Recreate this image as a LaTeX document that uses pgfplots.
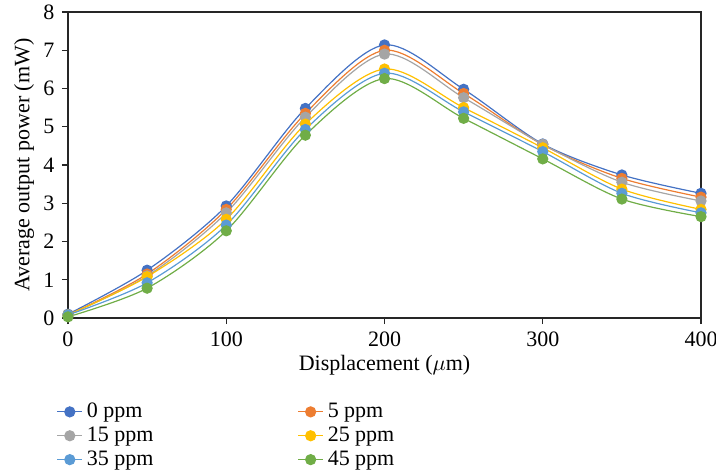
\documentclass[border=0pt]{standalone}
\usepackage{fontspec}
\setmainfont{Liberation Serif}
\usepackage{pgfplots}
\pgfplotsset{compat=1.18}

\definecolor{cA}{HTML}{4472C4}
\definecolor{cB}{HTML}{ED7D31}
\definecolor{cC}{HTML}{A5A5A5}
\definecolor{cD}{HTML}{FFC000}
\definecolor{cE}{HTML}{5B9BD5}
\definecolor{cF}{HTML}{70AD47}

\begin{document}
\fontsize{11}{13}\selectfont
\begin{tikzpicture}
\useasboundingbox (-34pt,-77.5pt) rectangle (324pt,159pt);
\begin{axis}[
    width=316.5pt, height=153pt, scale only axis,
    xmin=0, xmax=400, ymin=0, ymax=8,
    xtick={0,100,...,400}, ytick={0,1,...,8},
    tick align=outside, tick pos=left,
    major tick length=3pt,
    axis line style={line width=0.6pt, black!85},
    every tick/.style={line width=0.6pt, black!85},
    /pgf/number format/assume math mode=true,
    xlabel={Displacement ($\mu$m)},
    ylabel={Average output power (mW)},
    xlabel style={yshift=3pt},
    ylabel style={yshift=-3pt},
    clip=false,
    every axis plot/.append style={line width=0.6pt, smooth, tension=0.5, mark=*, mark size=2.5pt},
    legend columns=2,
    legend cell align=left,
    legend style={draw=none, fill=none, at={(-0.028,-0.25)}, anchor=north west,
        row sep=-1pt, /tikz/column 2/.style={column sep=70pt}},
    legend image code/.code={\draw[mark repeat=2,mark phase=2] plot coordinates {(0cm,0cm)(0.22cm,0cm)(0.44cm,0cm)};},
]
\addplot[cA, mark options={fill=cA}] coordinates {(0,0.10) (50,1.25) (100,2.93) (150,5.48) (200,7.14) (250,5.98) (300,4.55) (350,3.74) (400,3.26)};
\addlegendentry{0 ppm}
\addplot[cB, mark options={fill=cB}] coordinates {(0,0.08) (50,1.15) (100,2.84) (150,5.35) (200,7.00) (250,5.87) (300,4.53) (350,3.65) (400,3.16)};
\addlegendentry{5 ppm}
\addplot[cC, mark options={fill=cC}] coordinates {(0,0.08) (50,1.10) (100,2.75) (150,5.25) (200,6.90) (250,5.76) (300,4.54) (350,3.55) (400,3.06)};
\addlegendentry{15 ppm}
\addplot[cD, mark options={fill=cD}] coordinates {(0,0.08) (50,1.08) (100,2.58) (150,5.07) (200,6.51) (250,5.50) (300,4.45) (350,3.37) (400,2.84)};
\addlegendentry{25 ppm}
\addplot[cE, mark options={fill=cE}] coordinates {(0,0.08) (50,0.92) (100,2.43) (150,4.93) (200,6.40) (250,5.39) (300,4.35) (350,3.26) (400,2.75)};
\addlegendentry{35 ppm}
\addplot[cF, mark options={fill=cF}] coordinates {(0,0.03) (50,0.78) (100,2.28) (150,4.78) (200,6.26) (250,5.22) (300,4.16) (350,3.11) (400,2.65)};
\addlegendentry{45 ppm}
\end{axis}
\end{tikzpicture}
\end{document}
